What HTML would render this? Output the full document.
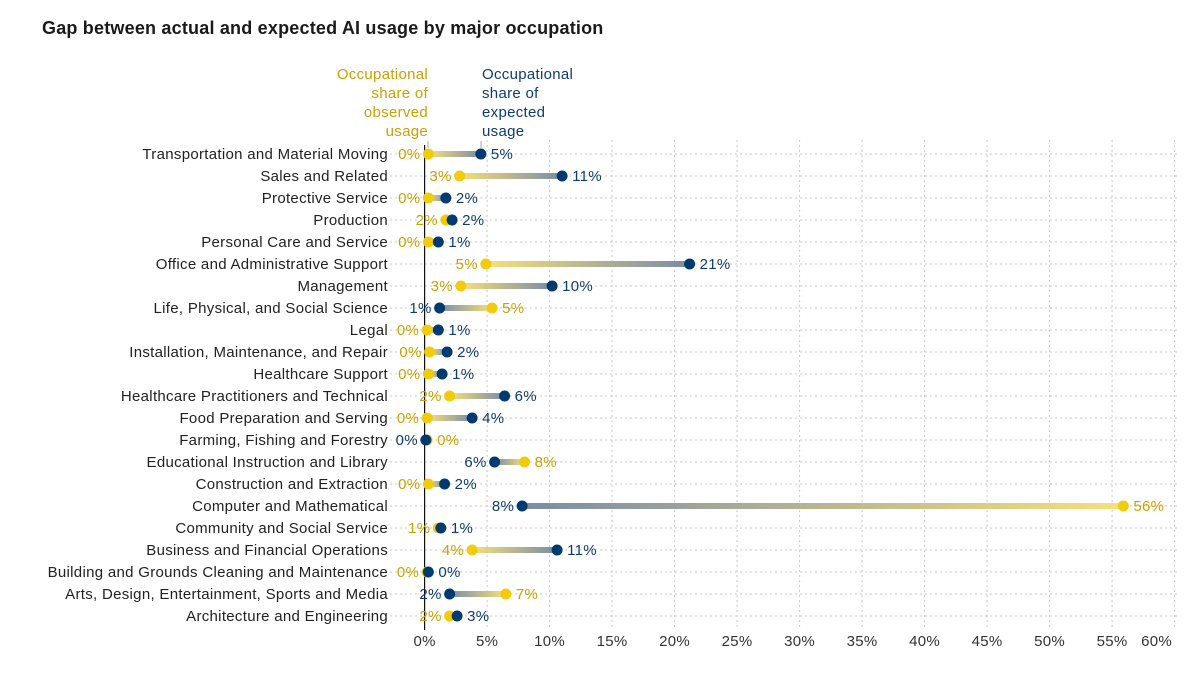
<!DOCTYPE html>
<html><head><meta charset="utf-8"><style>
body{margin:0;background:#fff;width:1203px;height:671px;overflow:hidden;font-family:"Liberation Sans",sans-serif}
svg text{font-family:"Liberation Sans",sans-serif;letter-spacing:0.3px}
</style></head><body>
<svg id="chart" width="1203" height="671" viewBox="0 0 1203 671" xmlns="http://www.w3.org/2000/svg">
<defs></defs>
<text x="42" y="34" font-size="18" font-weight="bold" fill="#1a1a1a" style="letter-spacing:0.2px">Gap between actual and expected AI usage by major occupation</text>
<g id="legend">
<text font-size="15" fill="#c9a100" text-anchor="end"><tspan x="428" y="79">Occupational</tspan><tspan x="428" y="98">share of</tspan><tspan x="428" y="117">observed</tspan><tspan x="428" y="136">usage</tspan></text>
<text font-size="15" fill="#0e3c6e"><tspan x="482" y="79">Occupational</tspan><tspan x="482" y="98">share of</tspan><tspan x="482" y="117">expected</tspan><tspan x="482" y="136">usage</tspan></text>
<line x1="428" y1="141" x2="428" y2="148" stroke="#aab" stroke-width="1"/>
<line x1="481" y1="141" x2="481" y2="148" stroke="#aab" stroke-width="1"/>
</g>
<g id="grid"></g><g id="marks"></g><g id="labels"></g>
</svg>
<script>
const categories=["Transportation and Material Moving","Sales and Related","Protective Service","Production","Personal Care and Service","Office and Administrative Support","Management","Life, Physical, and Social Science","Legal","Installation, Maintenance, and Repair","Healthcare Support","Healthcare Practitioners and Technical","Food Preparation and Serving","Farming, Fishing and Forestry","Educational Instruction and Library","Construction and Extraction","Computer and Mathematical","Community and Social Service","Business and Financial Operations","Building and Grounds Cleaning and Maintenance","Arts, Design, Entertainment, Sports and Media","Architecture and Engineering"];
const observed=[0.3,2.8,0.3,1.7,0.3,4.9,2.9,5.4,0.2,0.4,0.3,2.0,0.2,0.2,8.0,0.3,55.9,1.1,3.8,0.2,6.5,2.0];
const expected=[4.5,11.0,1.7,2.2,1.1,21.2,10.2,1.2,1.1,1.8,1.4,6.4,3.8,0.1,5.6,1.6,7.8,1.3,10.6,0.3,2.0,2.6];
const ticks=[0,5,10,15,20,25,30,35,40,45,50,55,60];
const NS="http://www.w3.org/2000/svg";
const x=v=>424.6+v*12.5;
const y=i=>154+i*22;
function mk(t,a,p){const e=document.createElementNS(NS,t);for(const k in a)e.setAttribute(k,a[k]);p.appendChild(e);return e;}
const grid=document.getElementById('grid'),marks=document.getElementById('marks'),labels=document.getElementById('labels'),defs=document.querySelector('defs');
ticks.forEach((t,i)=>{
  if(t>0){const g=mk('line',{x1:x(t),x2:x(t),y1:140,y2:630,stroke:'#c8c8c8','stroke-dasharray':'2,3'},grid);
  
  }
  const lx=t===60?x(t)-18:x(t);
  const tl=mk('text',{x:lx,y:646,'font-size':15,fill:'#333','text-anchor':'middle'},labels);tl.textContent=t+'%';
  
  
});
categories.forEach((c,i)=>{
  const h=mk('line',{x1:390,x2:1177,y1:y(i),y2:y(i),stroke:'#c8c8c8','stroke-dasharray':'2,3'},grid);
  
  
  const cl=mk('text',{x:388,y:y(i)+5,'font-size':15,fill:'#222','text-anchor':'end'},labels);cl.textContent=c;
  
  
});
const z=mk('line',{x1:x(0),x2:x(0),y1:145,y2:630,stroke:'#111','stroke-width':1.2},grid);


categories.forEach((c,i)=>{
  const o=observed[i],e=expected[i],yy=y(i);
  const gid='g'+i;
  const gr=mk('linearGradient',{id:gid,gradientUnits:'userSpaceOnUse',x1:x(o),x2:x(e),y1:0,y2:0},defs);
  mk('stop',{offset:'0','stop-color':'#f7e07a'},gr);mk('stop',{offset:'1','stop-color':'#7a8ca6'},gr);
  const ln=mk('line',{x1:x(o),x2:x(e),y1:yy,y2:yy,stroke:'url(#'+gid+')','stroke-width':6},marks);
  
  
  const dO=mk('circle',{cx:x(o),cy:yy,r:5.5,fill:'#f2cc0c'},marks);
  
  
  const dE=mk('circle',{cx:x(e),cy:yy,r:5.5,fill:'#003a70'},marks);
  
  
  const oLeft=o<=e;
  const lo=Math.min(o,e),hi=Math.max(o,e);
  const tO=mk('text',{x:oLeft?x(lo)-8:x(hi)+10,y:yy+5,'font-size':15,fill:'#c9a100','text-anchor':oLeft?'end':'start'},labels);
  tO.textContent=Math.round(o)+'%';
  
  
  const tE=mk('text',{x:oLeft?x(hi)+10:x(lo)-8,y:yy+5,'font-size':15,fill:'#0e3c6e','text-anchor':oLeft?'start':'end'},labels);
  tE.textContent=Math.round(e)+'%';
  
  
});
</script>
</body></html>
